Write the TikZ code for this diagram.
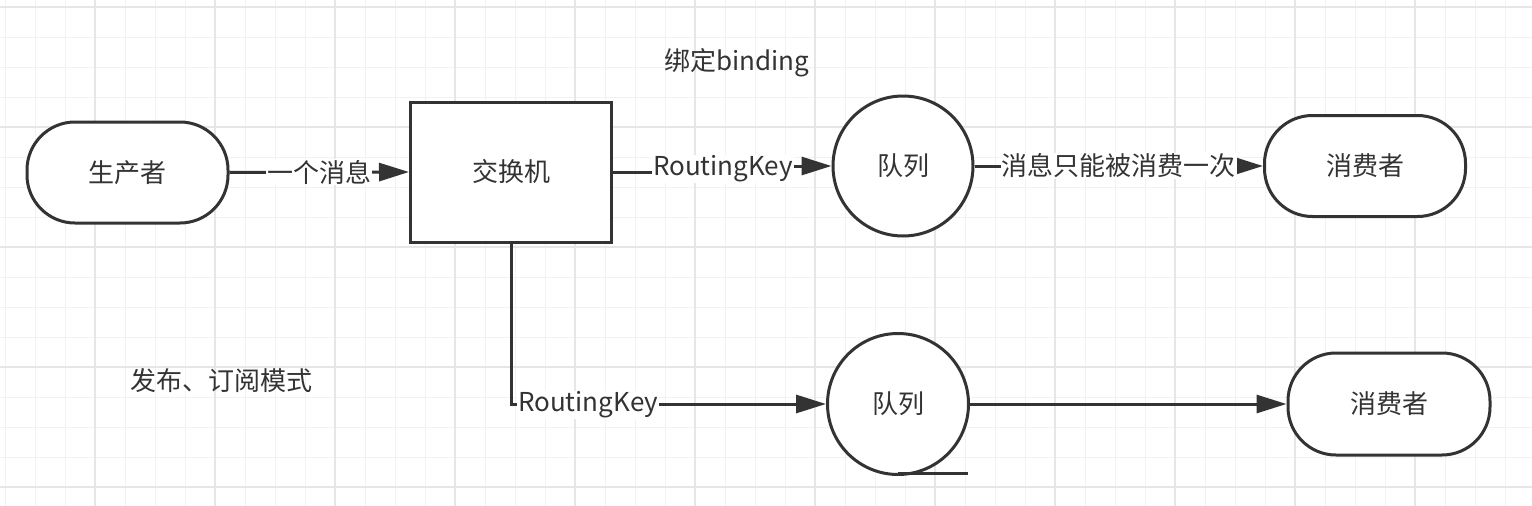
\documentclass[tikz,border=0pt]{standalone}
\usepackage{fontspec}
\setmainfont{Noto Sans CJK SC}
\usetikzlibrary{arrows.meta,calc}
\definecolor{ink}{HTML}{333333}
\definecolor{gridminor}{HTML}{F2F2F2}
\definecolor{gridmajor}{HTML}{E6E6E6}
\tikzset{
  minorline/.style={draw=gridminor, line width=1pt},
  majorline/.style={draw=gridmajor, line width=1.3pt},
  shapeline/.style={draw=ink, line width=3pt, fill=white, text=ink, font=\fontsize{26}{29}\selectfont},
  termbox/.style={shapeline, rectangle, rounded corners=48pt},
  exbox/.style={shapeline, rectangle},
  queuebox/.style={shapeline, circle, inner sep=0pt},
  conn/.style={draw=ink, line width=3pt, -{Triangle[length=30pt,width=18pt]}},
  plainconn/.style={draw=ink, line width=3.5pt},
  lbl/.style={fill=white, text=ink, inner sep=1pt, font=\fontsize{26}{29}\selectfont},
  freetext/.style={text=ink, inner sep=0pt, font=\fontsize{26}{29}\selectfont}
}
\begin{document}
\begin{tikzpicture}[x=1pt,y=-1pt]
\useasboundingbox (0,0) rectangle (1532,506);
\fill[white] (0,0) rectangle (1532,506);
% grid
\foreach \x in {5,35,...,1532} \draw[minorline] (\x,0) -- (\x,506);
\foreach \y in {7,37,...,506} \draw[minorline] (0,\y) -- (1532,\y);
\foreach \x in {95,215,...,1532} \draw[majorline] (\x,0) -- (\x,506);
\foreach \y in {7,127,...,506} \draw[majorline] (0,\y) -- (1532,\y);

% nodes
\node[termbox, minimum width=201pt, minimum height=101pt] (prod) at (127.5,172.5) {生产者};
\node[exbox, minimum width=201pt, minimum height=140pt] (ex) at (511,172) {交换机};
\node[queuebox, minimum size=140pt] (q1) at (903,166) {队列};
\node[queuebox, minimum size=141pt] (q2) at (898,404) {队列};
\node[termbox, minimum width=201pt, minimum height=101pt] (c1) at (1365,166) {消费者};
\node[termbox, minimum width=202pt, minimum height=102pt] (c2) at (1389,404) {消费者};
\draw[plainconn] (q2.center) ++(0,69.5) -- ++(70,0);

% connectors
\draw[conn] (prod.east) -- node[lbl] (m1) {一个消息} (ex.west);
\coordinate (k1) at (723,169);
\draw[conn] (ex.east) -- (k1 |- ex.east) -- (k1 |- q1.west) -- (q1.west);
\node[lbl] (rk1) at (k1) {RoutingKey};
\draw[conn] (q1.east) -- node[lbl] (m2) {消息只能被消费一次} (c1.west);
\coordinate (bend) at (ex.south |- q2.west);
\draw[conn] (ex.south) -- (bend) -- (q2.west);
\node[lbl, anchor=west] (rk2) at ($(bend)+(6,1)$) {RoutingKey};
\draw[conn] (q2.east) -- (c2.west);

% free texts
\node[freetext] (bind) at (737,63) {绑定binding};
\node[freetext] (mode) at (221,381) {发布、订阅模式};
\end{tikzpicture}
\end{document}
